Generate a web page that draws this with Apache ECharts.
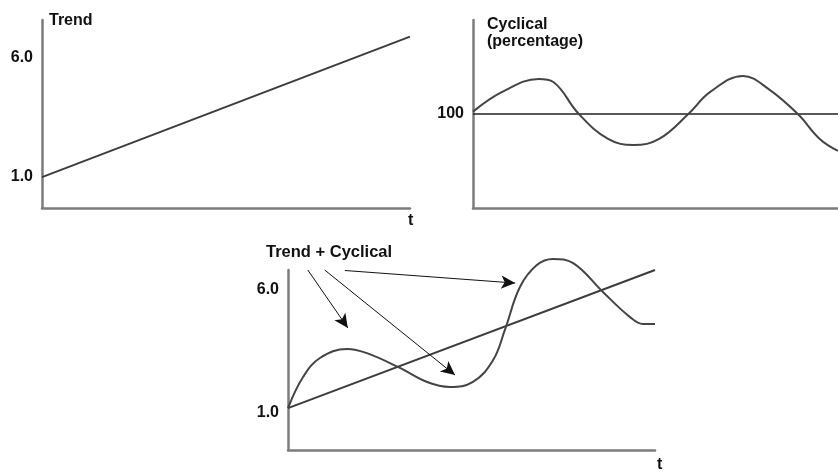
<!DOCTYPE html>
<html>
<head>
<meta charset="utf-8">
<script src="https://cdn.jsdelivr.net/npm/echarts@6/dist/echarts.min.js"></script>
<style>
  html, body { margin: 0; padding: 0; background: #fff; }
  #main { width: 838px; height: 471px; }
</style>
</head>
<body>
<div id="main"></div>
<script>
// top-left: trend
const trendT = [0, 10];
const trendV = [1.0, 6.9];
const trendTicks = [1.0, 6.0];

// top-right: cyclical (percentage)
const cycT = [0, 0.8, 1.8, 2.2, 2.9, 3.7, 4.4, 5.1, 5.9, 6.5, 7.4, 8.1, 8.9, 9.5, 10];
const cycV = [101, 109.4, 114.9, 113.6, 100, 89.4, 86.8, 89.4, 100, 109.4, 116.2, 110.6, 100, 89.4, 84.3];
const cycBaseT = [0, 10];
const cycBaseV = [100, 100];
const cycTicks = [100];

// bottom: trend + cyclical
const sumTrendT = [0, 10];
const sumTrendV = [1.2, 6.8];
const sumT = [0, 0.41, 0.87, 1.61, 2.15, 3.05, 3.79, 4.41, 5.04, 5.59, 5.91, 6.32, 6.78, 7.22, 7.77, 8.58, 9.32, 9.67, 10];
const sumV = [1.2, 2.46, 3.23, 3.6, 3.43, 2.83, 2.26, 2.06, 2.26, 3.15, 4.37, 6.11, 7.0, 7.25, 7.08, 5.91, 4.89, 4.61, 4.61];

// arrows from the "Trend + Cyclical" label (data coords of bottom panel)
const arrowFrom = [[0.54, 6.8], [1.0, 6.8], [1.55, 6.78]];
const arrowTo = [[1.63, 4.45], [4.55, 2.54], [6.19, 6.27]];

const zip = (xs, ys) => xs.map((x, i) => [x, ys[i]]);

const FONT = '"Liberation Sans", Arial, sans-serif';
const axisGray = '#7c7c7c';
const lineDark = '#3c3c3c';

function xAx(gridIndex) {
  return {
    type: 'value', gridIndex, min: 0, max: 10,
    axisLine: { show: true, onZero: false, lineStyle: { color: axisGray, width: 2.5 } },
    axisTick: { show: false }, axisLabel: { show: false }, splitLine: { show: false }
  };
}
function yAx(gridIndex, min, max, ticks, digits) {
  return {
    type: 'value', gridIndex, min, max,
    axisLine: { show: true, onZero: false, lineStyle: { color: axisGray, width: 2.5 } },
    axisTick: { show: false }, splitLine: { show: false },
    axisLabel: {
      show: true, customValues: ticks, margin: 9,
      formatter: v => v.toFixed(digits),
      color: '#111', fontSize: 16, fontWeight: 'bold', fontFamily: FONT
    }
  };
}
function lineSeries(idx, data, color, width, smooth) {
  return {
    type: 'line', xAxisIndex: idx, yAxisIndex: idx, data,
    smooth, showSymbol: false, clip: false, silent: true,
    lineStyle: { color, width }
  };
}

const chart = echarts.init(document.getElementById('main'), null, { renderer: 'canvas' });

const titleStyle = { color: '#111', fontSize: 16, fontWeight: 'bold', fontFamily: FONT, lineHeight: 17 };

const option = {
  backgroundColor: '#fff',
  animation: false,
  title: [
    { text: 'Trend', left: 49, top: 12, padding: 0, textStyle: titleStyle },
    { text: 'Cyclical\n(percentage)', left: 487, top: 16, padding: 0, textStyle: titleStyle },
    { text: 'Trend + Cyclical', left: 266, top: 244, padding: 0, textStyle: Object.assign({}, titleStyle, { fontSize: 16.5 }) },
    { text: 't', left: 408, top: 212, padding: 0, textStyle: titleStyle },
    { text: 't', left: 657, top: 456, padding: 0, textStyle: titleStyle }
  ],
  grid: [
    { left: 42, top: 20, width: 368, height: 188 },
    { left: 473, top: 20, width: 365, height: 188 },
    { left: 288, top: 270, width: 367, height: 180 }
  ],
  xAxis: [xAx(0), xAx(1), xAx(2)],
  yAxis: [
    yAx(0, -0.3, 7.6, trendTicks, 1),
    yAx(1, 60, 140, cycTicks, 0),
    yAx(2, -0.5, 6.8, trendTicks, 1)
  ],
  series: [
    lineSeries(0, zip(trendT, trendV), lineDark, 2, false),
    lineSeries(1, zip(cycBaseT, cycBaseV), '#222', 1.5, false),
    lineSeries(1, zip(cycT, cycV), '#444', 2, 0.4),
    Object.assign(lineSeries(2, zip(sumTrendT, sumTrendV), lineDark, 2, false), {
      markLine: {
        silent: true, animation: false,
        symbol: ['none', 'arrow'], symbolSize: [10, 14],
        label: { show: false },
        lineStyle: { color: '#111', width: 1, type: 'solid' },
        data: arrowFrom.map((f, i) => [{ coord: f }, { coord: arrowTo[i] }])
      }
    }),
    lineSeries(2, zip(sumT, sumV), '#444', 2, 0.4)
  ]
};

chart.setOption(option);
</script>
</body>
</html>
